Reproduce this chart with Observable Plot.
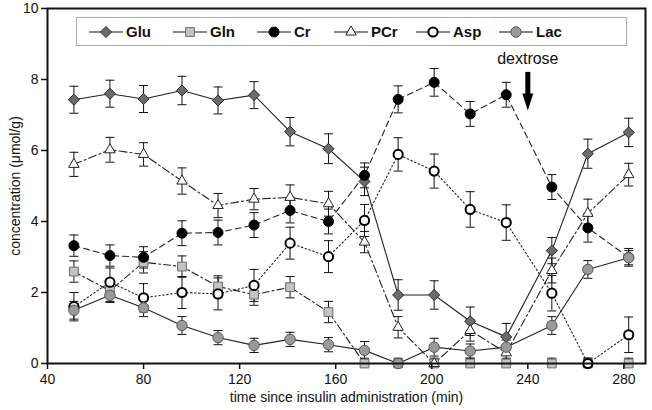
<!DOCTYPE html>
<html><head><meta charset="utf-8">
<script src="https://cdn.jsdelivr.net/npm/d3@7"></script>
<script src="https://cdn.jsdelivr.net/npm/@observablehq/plot@0.6"></script>
<style>
body{margin:0;background:#fff;}
#wrap{position:relative;width:652px;height:410px;font-family:"Liberation Sans",Arial,sans-serif;}
#legend{position:absolute;left:76px;top:17px;width:549px;height:27px;border:1px solid #aaa;background:#fff;}
.entry{position:absolute;top:0;height:27px;display:flex;align-items:center;}
.entry span{font-weight:bold;font-size:15px;color:#111;margin-left:3px}
</style></head><body><div id="wrap"></div>
<script>
// ---- data ----
const times = [51, 66, 80, 96, 111, 126, 141, 157, 172, 186, 201, 216, 231, 250, 265, 282];
const seriesNames = ["Glu", "Gln", "Cr", "PCr", "Asp", "Lac"];
const glu    = [7.43, 7.60, 7.45, 7.69, 7.41, 7.56, 6.53, 6.05, 5.13, 1.93, 1.93, 1.19, 0.75, 3.18, 5.91, 6.51];
const gluErr = [0.38, 0.38, 0.38, 0.40, 0.38, 0.38, 0.40, 0.42, 0.40, 0.43, 0.40, 0.40, 0.38, 0.37, 0.41, 0.40];
const gln    = [2.59, 2.05, 2.85, 2.73, 2.17, 1.94, 2.15, 1.45, 0, 0, 0, 0, 0, 0, 0, 0];
const glnErr = [0.30, 0.30, 0.30, 0.30, 0.30, 0.30, 0.30, 0.30, 0.15, 0.15, 0.15, 0.15, 0.15, 0.15, 0.15, 0.15];
const cr     = [3.32, 3.04, 2.99, 3.67, 3.69, 3.90, 4.31, 4.00, 5.30, 7.44, 7.92, 7.03, 7.57, 4.97, 3.82, 2.99];
const crErr  = [0.30, 0.30, 0.30, 0.35, 0.35, 0.35, 0.35, 0.35, 0.35, 0.38, 0.39, 0.35, 0.35, 0.35, 0.40, 0.25];
const pcr    = [5.61, 6.02, 5.89, 5.14, 4.45, 4.63, 4.68, 4.50, 3.42, 1.02, 0.00, 0.93, 0.30, 2.62, 4.23, 5.32];
const pcrErr = [0.34, 0.35, 0.33, 0.37, 0.34, 0.30, 0.35, 0.35, 0.30, 0.30, 0.10, 0.30, 0.20, 0.35, 0.40, 0.32];
const asp    = [1.60, 2.29, 1.85, 2.00, 1.96, 2.20, 3.39, 3.01, 4.03, 5.89, 5.42, 4.34, 3.97, 1.98, 0.00, 0.81];
const aspErr = [0.40, 0.40, 0.40, 0.45, 0.45, 0.45, 0.45, 0.45, 0.45, 0.47, 0.48, 0.50, 0.50, 0.50, 0.15, 0.50];
const lac    = [1.50, 1.92, 1.57, 1.07, 0.73, 0.51, 0.68, 0.53, 0.37, 0.00, 0.46, 0.35, 0.46, 1.07, 2.65, 2.98];
const lacErr = [0.25, 0.20, 0.25, 0.25, 0.20, 0.20, 0.20, 0.20, 0.25, 0.10, 0.25, 0.20, 0.20, 0.25, 0.25, 0.20];
const xTicks = [40, 80, 120, 160, 200, 240, 280];
const yTicks = [0, 2, 4, 6, 8, 10];
const annotationTime = [240];
const annotationText = ["dextrose"];

// ---- styles ----
const valuesBy = {Glu: glu, Gln: gln, Cr: cr, PCr: pcr, Asp: asp, Lac: lac};
const errorsBy = {Glu: gluErr, Gln: glnErr, Cr: crErr, PCr: pcrErr, Asp: aspErr, Lac: lacErr};
const style = {
  Glu: {symbol: "diamond2", d3sym: d3.symbolDiamond2, fill: "#6b6b6b", stroke: "#2a2a2a", r: 5.0, sw: 1, dash: null},
  Gln: {symbol: "square2", d3sym: d3.symbolSquare2, fill: "#c4c4c4", stroke: "#6a6a6a", r: 5.6, sw: 1, dash: "7,3,2,3"},
  Cr:  {symbol: "circle", d3sym: d3.symbolCircle, fill: "#000", stroke: "#000", r: 5.0, sw: 1, dash: "6,4"},
  PCr: {symbol: "triangle2", d3sym: d3.symbolTriangle2, fill: "#fff", stroke: "#222", r: 5.0, sw: 1, dash: "8,3,2,3"},
  Asp: {symbol: "circle", d3sym: d3.symbolCircle, fill: "#fff", stroke: "#000", r: 4.6, sw: 2, dash: "1.5,2.5"},
  Lac: {symbol: "circle", d3sym: d3.symbolCircle, fill: "#9a9a9a", stroke: "#555", r: 5.2, sw: 1, dash: null}
};

const rows = seriesNames.flatMap(name => times.map((t, i) => ({
  series: name, time: t, value: valuesBy[name][i],
  lo: Math.max(0, valuesBy[name][i] - errorsBy[name][i]),
  hi: valuesBy[name][i] + errorsBy[name][i]
})));

const capSymbol = {draw(ctx) { ctx.moveTo(-4.5, 0); ctx.lineTo(4.5, 0); }};
const headSymbol = {draw(ctx) { ctx.moveTo(-5.5, -17); ctx.lineTo(5.5, -17); ctx.lineTo(0, 0); ctx.closePath(); }};

const marks = [];
for (const name of seriesNames) {
  const s = style[name];
  const data = rows.filter(d => d.series === name);
  marks.push(Plot.line(data, {x: "time", y: "value", stroke: "#222", strokeWidth: 1.1, strokeDasharray: s.dash || undefined}));
}
for (const name of seriesNames) {
  const data = rows.filter(d => d.series === name);
  marks.push(Plot.ruleX(data, {x: "time", y1: "lo", y2: "hi", stroke: "#111", strokeWidth: 1}));
  marks.push(Plot.dot(data, {x: "time", y: "hi", symbol: capSymbol, stroke: "#111", strokeWidth: 1, r: 3}));
  marks.push(Plot.dot(data.filter(d => d.lo > 0), {x: "time", y: "lo", symbol: capSymbol, stroke: "#111", strokeWidth: 1, r: 3}));
}
for (const name of seriesNames) {
  const s = style[name];
  const data = rows.filter(d => d.series === name);
  marks.push(Plot.dot(data, {x: "time", y: "value", symbol: s.symbol, r: s.r, fill: s.fill, stroke: s.stroke, strokeWidth: s.sw}));
}
const ann = annotationTime.map((t, i) => ({time: t, text: annotationText[i]}));
marks.push(Plot.text(ann, {x: "time", y: 8.59, text: "text", fontSize: 16, fill: "#111"}));
marks.push(Plot.ruleX(ann, {x: "time", y1: 8.2, y2: 7.55, stroke: "#000", strokeWidth: 5}));
marks.push(Plot.dot(ann, {x: "time", y: 7.13, symbol: headSymbol, fill: "#000", stroke: "none", r: 3}));

marks.push(Plot.frame({stroke: "#111", strokeWidth: 2}));
marks.push(Plot.axisX({ticks: xTicks, tickSize: 6, tickPadding: 5, fontSize: 14, strokeWidth: 1.5,
  label: "time since insulin administration (min)", labelAnchor: "center", labelOffset: 38, labelArrow: "none"}));
marks.push(Plot.axisY({ticks: yTicks, tickSize: 6, tickPadding: 3, fontSize: 14, strokeWidth: 1.5,
  label: "concentration (μmol/g)", labelAnchor: "center", labelOffset: 37, labelArrow: "none"}));

const chart = Plot.plot({
  width: 652, height: 410,
  marginLeft: 47, marginRight: 7, marginTop: 8, marginBottom: 47,
  x: {domain: [40, 289]},
  y: {domain: [0, 10]},
  style: {fontFamily: "'Liberation Sans', Arial, sans-serif", fontSize: "14px", color: "#111", background: "#fff"},
  marks
});
const wrap = document.getElementById("wrap");
wrap.appendChild(chart);

// ---- legend (HTML overlay) ----
const legend = document.createElement("div");
legend.id = "legend";
const entryLeft = [12, 96, 180, 257, 339, 422];
seriesNames.forEach((name, i) => {
  const s = style[name];
  const e = document.createElement("div");
  e.className = "entry";
  e.style.left = entryLeft[i] + "px";
  const path = d3.symbol(s.d3sym, Math.PI * s.r * s.r)();
  e.innerHTML = `<svg width="34" height="16"><line x1="0" x2="34" y1="8" y2="8" stroke="#111" stroke-width="1.2"/>` +
    `<path transform="translate(17,8)" d="${path}" fill="${s.fill}" stroke="${s.stroke}" stroke-width="${s.sw}"/></svg><span>${name}</span>`;
  legend.appendChild(e);
});
wrap.appendChild(legend);
</script></body></html>
